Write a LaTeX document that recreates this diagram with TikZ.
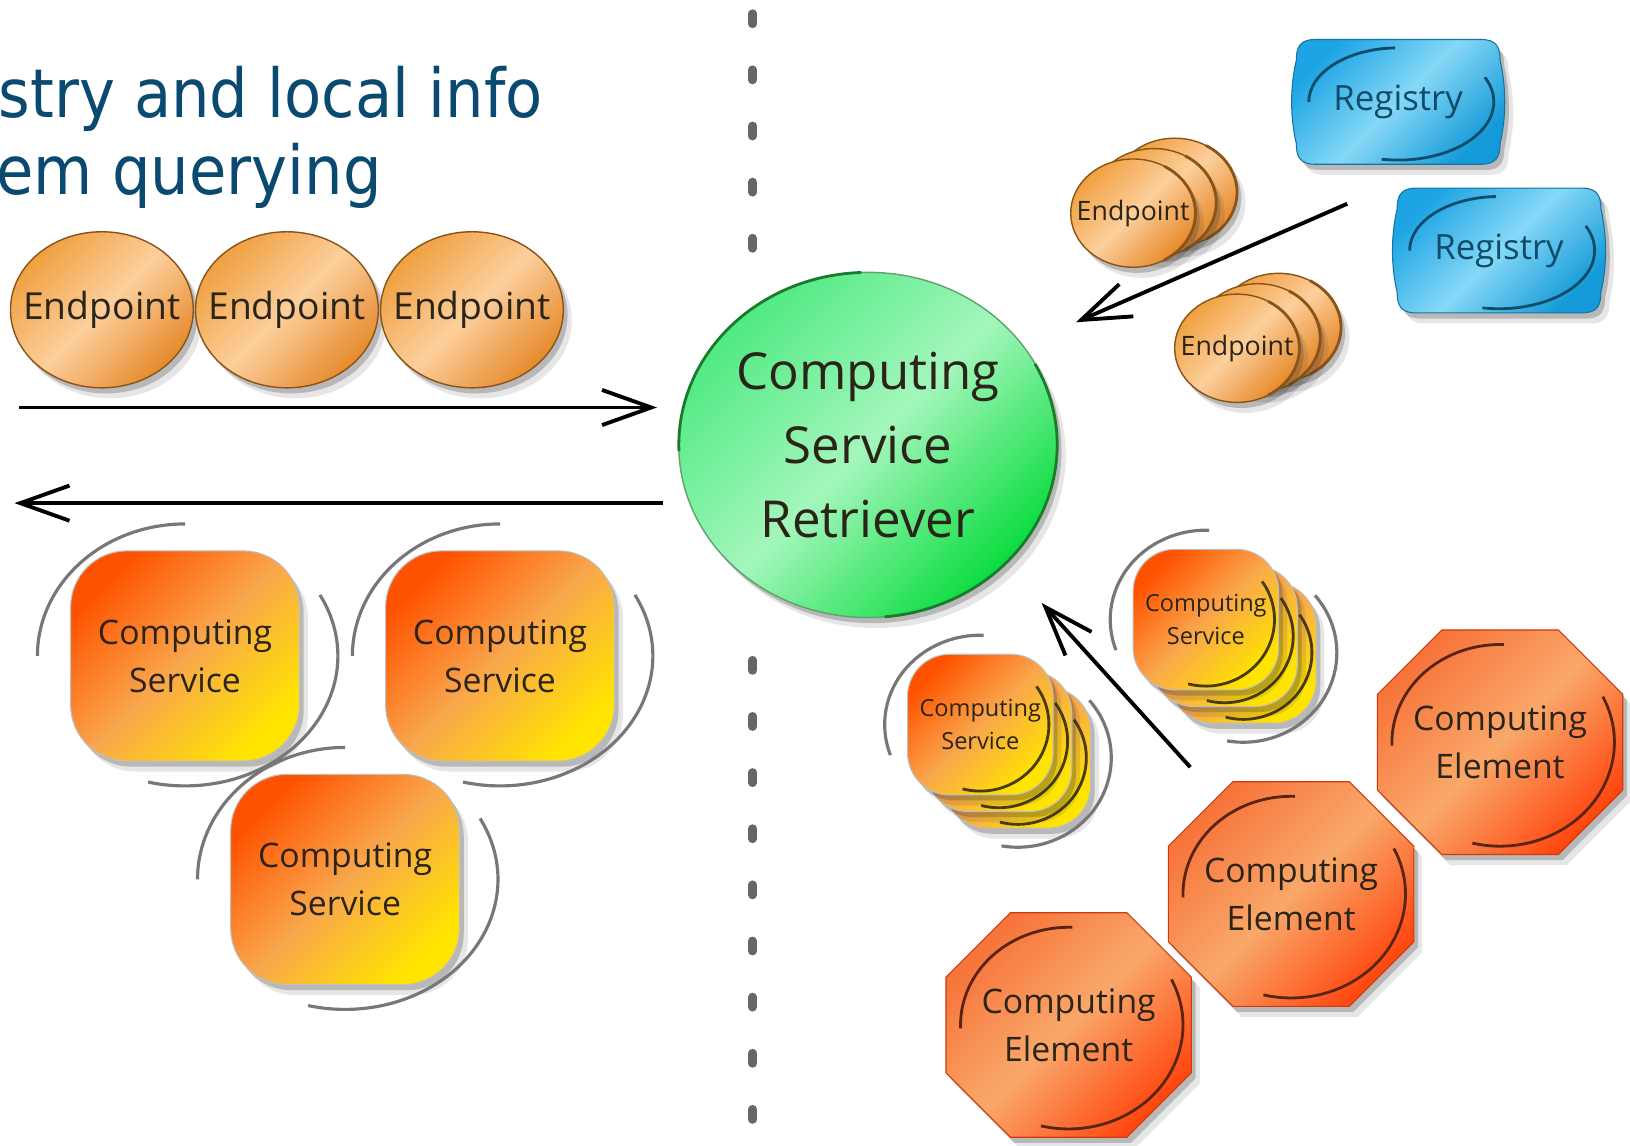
\documentclass[tikz,border=0pt]{standalone}
\usepackage{fontspec}
\setmainfont{Open Sans}
\newfontfamily\titlefont[FakeStretch=0.9]{DejaVu Sans}
\usetikzlibrary{arrows.meta,shapes.geometric,shadows}

\definecolor{titleblue}{HTML}{0A4A70}
\definecolor{ink}{HTML}{2B2418}
\definecolor{sepgray}{HTML}{666666}
\definecolor{ringgray}{HTML}{777777}
\definecolor{epA}{HTML}{F0A040}
\definecolor{epB}{HTML}{FCCF9C}
\definecolor{epC}{HTML}{E68A2C}
\definecolor{epline}{HTML}{8A5418}
\definecolor{csA}{HTML}{FF5200}
\definecolor{csB}{HTML}{F9A64C}
\definecolor{csC}{HTML}{FFE400}
\definecolor{csline}{HTML}{4A3A10}
\definecolor{ceA}{HTML}{F7743A}
\definecolor{ceB}{HTML}{F9A86A}
\definecolor{ceC}{HTML}{FF4810}
\definecolor{celine}{HTML}{5A2412}
\definecolor{regA}{HTML}{1CA4E4}
\definecolor{regB}{HTML}{86D8F6}
\definecolor{regC}{HTML}{149AD8}
\definecolor{regline}{HTML}{0E4C6A}
\definecolor{grA}{HTML}{4FEA82}
\definecolor{grB}{HTML}{A4F6BC}
\definecolor{grC}{HTML}{0ADC3E}
\definecolor{grline}{HTML}{1C7A2C}

\tikzset{
    soft/.style={drop shadow={shadow xshift=1.2pt,shadow yshift=-1.6pt,opacity=.25,fill=black!80},
                 drop shadow={shadow xshift=2.4pt,shadow yshift=-3pt,opacity=.12,fill=black!80}},
    titletext/.style={font=\titlefont\fontsize{19.2}{23}\selectfont, text=titleblue, inner sep=0pt},
    sepline/.style={line width=2.4pt, line cap=round, draw=sepgray},
    flow/.style={line width=1.1pt, -{Straight Barb[length=14pt,width=10pt]}},
    ring/.style={draw=ringgray, line width=.9pt},
    darkarc/.style={line width=.8pt},
    endpt/.style={ellipse, minimum width=52pt, minimum height=44.4pt, inner xsep=-5pt, inner ysep=0pt,
                  draw=epline, line width=.4pt, top color=epA, bottom color=epC, middle color=epB,
                  shading angle=45, soft, text=ink, font=\fontsize{10.6}{12}\selectfont},
    smallep/.style={endpt, minimum width=35.5pt, minimum height=30.8pt, font=\fontsize{7.6}{9}\selectfont},
    retriever/.style={ellipse, minimum width=107.7pt, minimum height=98.2pt, inner xsep=-2pt, inner ysep=0pt,
                  draw=grline!70, line width=.4pt, top color=grA, bottom color=grC, middle color=grB,
                  shading angle=45, soft, align=center, text=ink, font=\fontsize{14.5}{21}\selectfont},
    csbox/.style={rectangle, rounded corners=16pt, minimum width=65.1pt, minimum height=59.8pt, inner sep=0pt,
                  draw=black!25, line width=.3pt, top color=csA, bottom color=csC, middle color=csB,
                  shading angle=45, soft, align=center, text=ink, font=\fontsize{9.6}{13.6}\selectfont},
    smallcs/.style={csbox, rounded corners=12pt, minimum width=41.4pt, minimum height=40pt,
                  font=\fontsize{6.7}{9.5}\selectfont},
    regshape/.style={top color=regA, bottom color=regC, middle color=regB, shading angle=45,
                  draw=regA!70!black, line width=.3pt, soft},
    reglbl/.style={inner sep=0pt, text=regline, font=\fontsize{9.9}{12}\selectfont},
    ceshape/.style={top color=ceA, bottom color=ceC, middle color=ceB, shading angle=45,
                  draw=ceC!80!black, line width=.3pt, soft},
    celbl/.style={inner sep=0pt, align=center, text=ink, font=\fontsize{9.6}{13.6}\selectfont}
}

\begin{document}
\begin{tikzpicture}[x=0.10395mm, y=-0.10395mm]
    \path[use as bounding box, fill=white] (0,0) rectangle (1568,1101.5);
    %title (cut at the left)
    \node[titletext, anchor=base west] (tline1) at (-2,113) {stry and local info};
    \node[titletext, anchor=base west] (tline2) at (-4,187) {em querying};
    %separator
    \foreach \y in {18,72,...,234}
        \draw[sepline] (724,\y-5) -- (724,\y+5);
    \foreach \y in {640,694,...,1072}
        \draw[sepline] (724,\y-5) -- (724,\y+5);

    %left side: endpoints and services
    \node[endpt] (ep1) at (98,298) {Endpoint};
    \node[endpt] (ep2) at (276,298) {Endpoint};
    \node[endpt] (ep3) at (454,298) {Endpoint};
    \coordinate (inA) at (18,392);
    \coordinate (inB) at (632,392);
    \coordinate (outA) at (638,484);
    \coordinate (outB) at (14,484);
    \draw[flow] (inA) -- (inB);
    \draw[flow] (outA) -- (outB);
    \node[csbox] (cs1) at (178,631) {Computing\\Service};
    \node[csbox] (cs2) at (481,631) {Computing\\Service};
    \node[csbox] (cs3) at (332,846) {Computing\\Service};
    \foreach \n in {cs1,cs2,cs3}
        {%
            \draw[ring] (\n.center) ++(180:142 and 127) arc[start angle=180, end angle=270, x radius=142, y radius=127];
            \draw[ring] (\n.center) ++(-28:147 and 125) arc[start angle=-28, end angle=104, x radius=147, y radius=125];
        }

    %centre
    \node[retriever] (csr) at (835,428) {Computing\\Service\\Retriever};
    \draw[darkarc, draw=grline] (csr.center) ++(178:182 and 166) arc[start angle=178, end angle=268, x radius=182, y radius=166];
    \draw[darkarc, draw=grline] (csr.center) ++(-28:182 and 166) arc[start angle=-28, end angle=85, x radius=182, y radius=166];

    %right side: registries and endpoints
    \foreach \n/\x/\y in {reg1/1345/98, reg2/1442/241}
        {%
            \draw[regshape, shift={(\x,\y)}] (-80,-60) -- (80,-60) .. controls (95,-60) and (98,-52) .. (98,-40)
                .. controls (104,-15) and (104,15) .. (98,40) .. controls (98,52) and (95,60) .. (80,60)
                -- (-80,60) .. controls (-95,60) and (-98,52) .. (-98,40)
                .. controls (-104,15) and (-104,-15) .. (-98,-40) .. controls (-98,-52) and (-95,-60) .. (-80,-60) -- cycle;
            \draw[darkarc, draw=regline, shift={(\x,\y)}] (180:86 and 52) arc[start angle=180, end angle=268, x radius=86, y radius=52];
            \draw[darkarc, draw=regline, shift={(\x,\y)}] (-25:92 and 56) arc[start angle=-25, end angle=100, x radius=92, y radius=56];
            \node[reglbl] (\n) at (\x,\y) {Registry};
        }
    \foreach \n/\x/\y/\t in {epa3/1130/185/, epa2/1110/195/, epa1/1090/205/Endpoint,
                             epb3/1230/315/, epb2/1210/325/, epb1/1190/335/Endpoint}
        {%
            \node[smallep] (\n) at (\x,\y) {\t};
            \draw[darkarc, draw=epline] (\n.center) ++(-60:60 and 52) arc[start angle=-60, end angle=60, x radius=60, y radius=52];
        }
    \coordinate (rfrom) at (1296,196);
    \coordinate (rto) at (1035,310);
    \draw[flow] (rfrom) -- (rto);

    %right side: stacked services
    \foreach \n/\x/\y/\t in {csa3/1196/628/, csa2/1178/612/, csa1/1160/596/{Computing\\Service},
                             csb3/979/729/, csb2/961/713/, csb1/943/697/{Computing\\Service}}
        {%
            \node[smallcs] (\n) at (\x,\y) {\t};
            \draw[darkarc, draw=csline] (\n.center) ++(-35:66 and 64) arc[start angle=-35, end angle=105, x radius=66, y radius=64];
        }
    \foreach \f/\b in {csa1/csa3, csb1/csb3}
        {%
            \draw[ring] (\f.center) ++(160:92 and 86) arc[start angle=160, end angle=272, x radius=92, y radius=86];
            \draw[ring] (\b.center) ++(-40:90 and 86) arc[start angle=-40, end angle=100, x radius=90, y radius=86];
        }
    \coordinate (cfrom) at (1145,738);
    \coordinate (cto) at (1002,580);
    \draw[flow] (cfrom) -- (cto);

    %computing elements
    \foreach \n/\x/\y in {ce1/1443/714, ce2/1242/860, ce3/1028/986}
        {%
            \draw[ceshape, shift={(\x,\y)}] (-56,-108) -- (56,-108) -- (118,-46) -- (118,46)
                -- (56,108) -- (-56,108) -- (-118,46) -- (-118,-46) -- cycle;
            \draw[darkarc, draw=celine, shift={(\x,\y)}] (178:104 and 94) arc[start angle=178, end angle=272, x radius=104, y radius=94];
            \draw[darkarc, draw=celine, shift={(\x,\y)}] (-26:110 and 100) arc[start angle=-26, end angle=104, x radius=110, y radius=100];
            \node[celbl] (\n) at (\x,\y) {Computing\\Element};
        }
\end{tikzpicture}
\end{document}
